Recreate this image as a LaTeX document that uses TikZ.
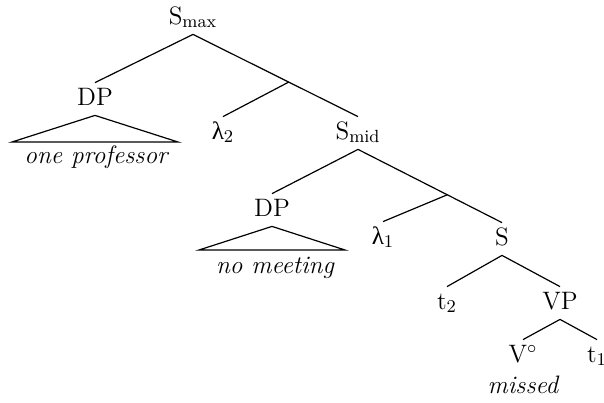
\documentclass[tikz,border=0pt]{standalone}
\usepackage{amsmath}
\usepackage{fontspec}
\newfontfamily\gk{Liberation Serif}
\usetikzlibrary{calc}
\begin{document}
\begin{tikzpicture}[x=0.5pt,y=-0.5pt,
  lab/.style={anchor=base, inner xsep=0pt, inner ysep=3pt, text height=8pt, text depth=2pt, font=\fontsize{12.6}{15}\selectfont},
  leaf/.style={anchor=base, inner sep=0pt, font=\fontsize{12.6}{15}\selectfont\itshape},
  edge/.style={line width=0.6pt}]
\useasboundingbox (0,0) rectangle (604,402);
% labels
\node[lab] (smax) at (193,24) {S$_\text{max}$};
\node[lab] (dp1) at (95,105) {DP};
\node[lab] (lam2) at (223,139) {{\gk λ}$_2$};
\node[lab] (smid) at (358,139) {S$_\text{mid}$};
\node[lab] (dp2) at (272,216) {DP};
\node[lab] (lam1) at (383,244) {{\gk λ}$_1$};
\node[lab] (s) at (502,245) {S};
\node[lab] (t2) at (447,309) {t$_2$};
\node[lab] (vp) at (560,309) {VP};
\node[lab] (v) at (523,362) {V$^\circ$};
\node[lab] (t1) at (597,362) {t$_1$};
\node[leaf] (op) at (96,163) {one professor};
\node[leaf] (nm) at (275,273) {no meeting};
\node[leaf] (missed) at (523,393) {missed};
% triangles
\coordinate (tri1l) at (12,142);
\coordinate (tri1r) at (178,142);
\coordinate (tri2l) at (199,250);
\coordinate (tri2r) at (345,250);
\draw[edge] (dp1.south) -- (tri1r) -- (tri1l) -- cycle;
\draw[edge] (dp2.south) -- (tri2r) -- (tri2l) -- cycle;
% edges
\draw[edge] (smax.south) -- (dp1.north);
\draw[edge] (smax.south) -- (smid.north);
\coordinate (n1) at ($(smax.south)!0.58!(smid.north)$);
\draw[edge] (n1) -- (lam2.north);
\draw[edge] (smid.south) -- (dp2.north);
\draw[edge] (smid.south) -- (s.north);
\coordinate (n2) at ($(smid.south)!0.62!(s.north)$);
\draw[edge] (n2) -- (lam1.north);
\draw[edge] (s.south) -- (t2.north);
\draw[edge] (s.south) -- (vp.north);
\draw[edge] (vp.south) -- (v.north);
\draw[edge] (vp.south) -- (t1.north);
\end{tikzpicture}
\end{document}
